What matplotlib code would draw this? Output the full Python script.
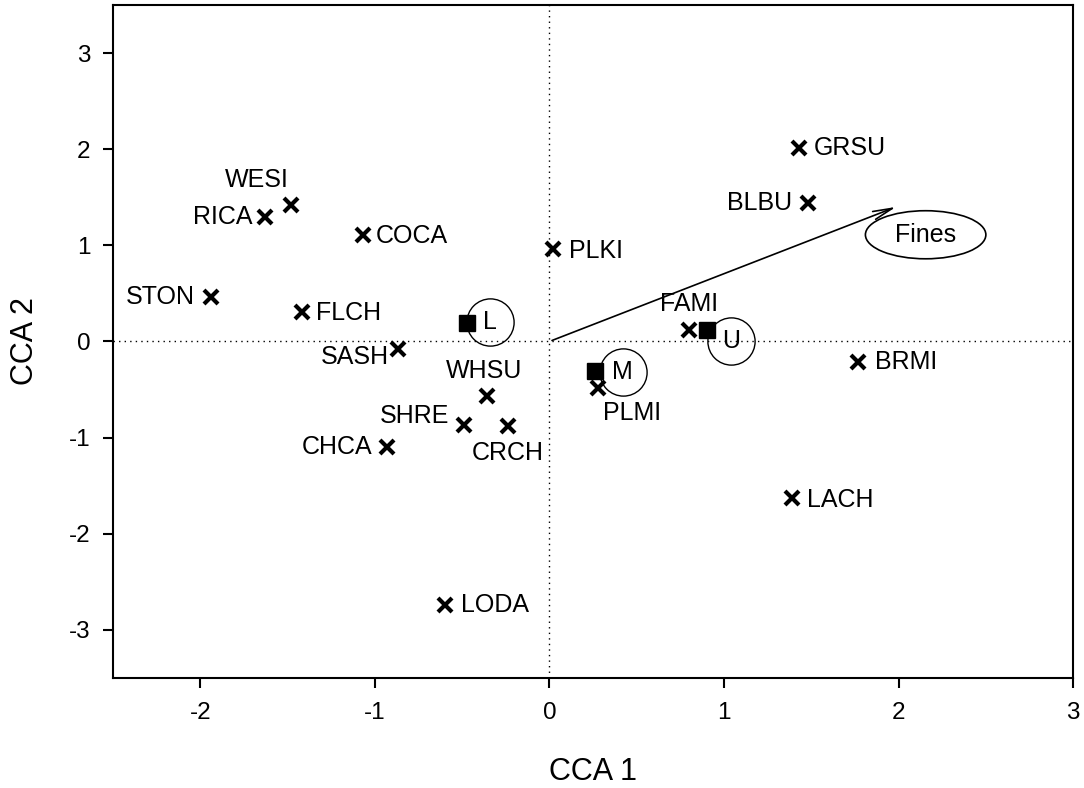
import matplotlib
matplotlib.use('Agg')
import matplotlib.pyplot as plt
from matplotlib.patches import Ellipse

plt.rcParams['font.family'] = ['Liberation Sans', 'DejaVu Sans']
plt.rcParams['axes.unicode_minus'] = False

# species scores
species = ['GRSU', 'BLBU', 'WESI', 'RICA', 'COCA', 'PLKI', 'STON', 'FLCH', 'SASH',
           'WHSU', 'SHRE', 'CRCH', 'CHCA', 'LODA', 'PLMI', 'FAMI', 'BRMI', 'LACH']
sp_x = [1.43, 1.48, -1.48, -1.63, -1.07, 0.02, -1.94, -1.42, -0.87,
        -0.36, -0.49, -0.24, -0.93, -0.60, 0.28, 0.80, 1.77, 1.39]
sp_y = [2.01, 1.44, 1.42, 1.29, 1.11, 0.96, 0.46, 0.31, -0.08,
        -0.57, -0.87, -0.88, -1.10, -2.74, -0.48, 0.12, -0.21, -1.63]

# site scores
sites = ['L', 'M', 'U']
site_x = [-0.47, 0.26, 0.90]
site_y = [0.19, -0.31, 0.12]
circ_x = [-0.34, 0.42, 1.04]
circ_y = [0.20, -0.32, 0.0]

# environmental vector
env_name = 'Fines'
env_x, env_y = 2.0, 1.41

# label offsets in pixels (dx, dy, ha)
offs = {'GRSU': (15, 0, 'left'), 'BLBU': (-16, 0, 'right'), 'WESI': (-34, 25, 'center'),
        'RICA': (-12, 0, 'right'), 'COCA': (13, -1, 'left'), 'PLKI': (16, -2, 'left'),
        'STON': (-16, 0, 'right'), 'FLCH': (14, -1, 'left'), 'SASH': (-9, -8, 'right'),
        'WHSU': (-2, 25, 'center'), 'SHRE': (-15, 9, 'right'), 'CRCH': (0, -27, 'center'),
        'CHCA': (-15, 0, 'right'), 'LODA': (16, 0, 'left'), 'PLMI': (34, -25, 'center'),
        'FAMI': (0, 26, 'center'), 'BRMI': (17, 0, 'left'), 'LACH': (15, -2, 'left')}

fig = plt.figure(figsize=(10.84, 7.88), dpi=100)
ax = fig.add_axes([0.1042, 0.1396, 0.8858, 0.8541])

ax.axhline(0, color='black', ls=(0, (1, 3)), lw=1, zorder=1)
ax.axvline(0, color='black', ls=(0, (1, 3)), lw=1, zorder=1)

ax.plot(sp_x, sp_y, 'x', color='black', ms=10, mew=3, zorder=3)
for name, x, y in zip(species, sp_x, sp_y):
    dx, dy, ha = offs[name]
    ax.annotate(name, (x, y), xytext=(dx, dy), textcoords='offset pixels',
                ha=ha, va='center', fontsize=18)

ax.plot(site_x, site_y, 's', color='black', ms=12, zorder=4)
ax.plot(circ_x, circ_y, 'o', mfc='none', mec='black', ms=34, mew=1, zorder=2)
for name, x, y in zip(sites, circ_x, circ_y):
    ax.text(x, y, name, ha='center', va='center', fontsize=18)

ax.annotate('', xy=(env_x, env_y), xytext=(0, 0),
            arrowprops=dict(arrowstyle='->,head_length=1.4,head_width=0.3', color='black', lw=1.2))
ax.add_patch(Ellipse((2.155, 1.11), 0.69, 0.5, fill=False, ec='black', lw=1.2))
ax.text(2.155, 1.11, env_name, ha='center', va='center', fontsize=18)

ax.set_xlim(-2.5, 3)
ax.set_ylim(-3.5, 3.5)
ax.set_xticks([-2, -1, 0, 1, 2, 3])
ax.set_yticks([-3, -2, -1, 0, 1, 2, 3])
ax.tick_params(direction='out', length=7.2, width=1.5, labelsize=17.5)
ax.tick_params(axis='x', pad=10)
ax.tick_params(axis='y', pad=9)
for s in ax.spines.values():
    s.set_linewidth(1.5)
ax.set_xlabel('CCA 1', fontsize=22, va='center')
ax.set_ylabel('CCA 2', fontsize=22, va='center')
ax.xaxis.set_label_coords(0.5, -0.140)
ax.yaxis.set_label_coords(-0.092, 0.5)

fig.savefig('out.png', dpi=100)
